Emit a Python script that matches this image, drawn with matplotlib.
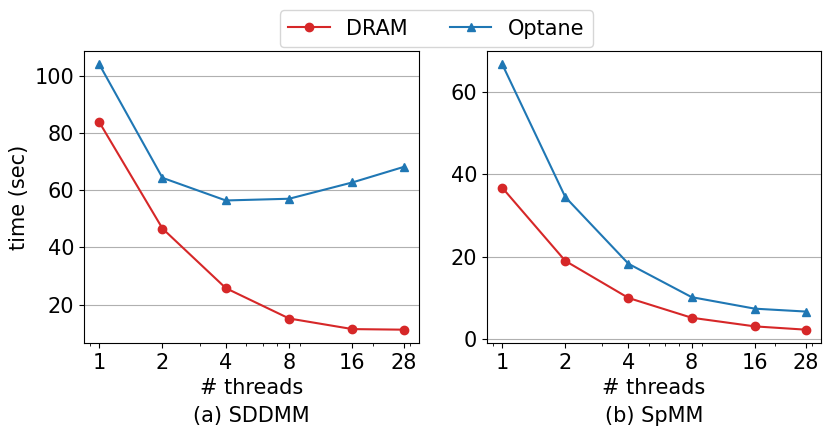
import matplotlib
matplotlib.use('Agg')
import matplotlib.pyplot as plt
from matplotlib.ticker import NullFormatter

# thread counts
threads = [1, 2, 4, 8, 16, 28]

# SDDMM times (sec)
sddmm_dram = [83.8, 46.6, 25.8, 15.2, 11.5, 11.3]
sddmm_optane = [104.0, 64.3, 56.4, 57.0, 62.7, 68.1]

# SpMM times (sec)
spmm_dram = [36.8, 19.0, 10.0, 5.2, 3.1, 2.3]
spmm_optane = [66.8, 34.5, 18.3, 10.2, 7.4, 6.7]

plt.rcParams['font.size'] = 15

fig = plt.figure(figsize=(8.31, 4.38), dpi=100)
ax1 = fig.add_axes([0.101, 0.217, 0.403, 0.667])
ax2 = fig.add_axes([0.586, 0.217, 0.402, 0.667])

for ax, dram, opt, name in [(ax1, sddmm_dram, sddmm_optane, '(a) SDDMM'),
                            (ax2, spmm_dram, spmm_optane, '(b) SpMM')]:
    ax.semilogx(threads, dram, color='tab:red', marker='o', label='DRAM')
    ax.semilogx(threads, opt, color='tab:blue', marker='^', label='Optane')
    ax.set_xticks(threads)
    ax.set_xticklabels([str(t) for t in threads])
    ax.xaxis.set_minor_formatter(NullFormatter())
    ax.grid(axis='y', color='#b0b0b0')
    ax.set_axisbelow(True)
    ax.set_xlabel('# threads\n' + name, linespacing=1.5)

ax1.set_ylabel('time (sec)')
ax1.set_yticks([20, 40, 60, 80, 100])
ax2.set_yticks([0, 20, 40, 60])

h, l = ax1.get_legend_handles_labels()
fig.legend(h, l, loc='upper center', ncol=2, bbox_to_anchor=(0.525, 1.0))

plt.savefig('out.png', dpi=100)
